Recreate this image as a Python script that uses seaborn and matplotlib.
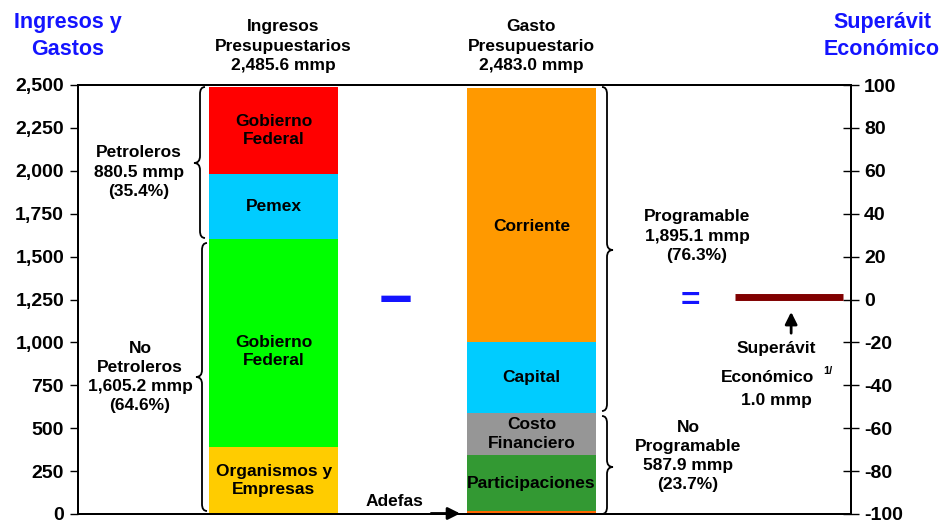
import numpy as np
import matplotlib
matplotlib.use("Agg")
import matplotlib.pyplot as plt
import seaborn as sns
from matplotlib.path import Path
from matplotlib.patches import PathPatch
from matplotlib.ticker import FuncFormatter, MultipleLocator

# data (mmp)
cats = ["Ingresos", "Gasto"]
ing_seg = ["Organismos y\nEmpresas", "Gobierno\nFederal", "Pemex", "Gobierno\nFederal"]
ing_val = [390.0, 1215.2, 378.0, 502.4]
gas_seg = ["", "Participaciones", "Costo\nFinanciero", "Capital", "Corriente"]
gas_val = [15.0, 330.0, 242.9, 415.0, 1480.1]
superavit = 1.0

ing_colors = ["#FFCC00", "#00FF00", "#00CCFF", "#FF0000"]
gas_colors = ["#FF6600", "#339933", "#969696", "#00CCFF", "#FF9900"]

sns.set_theme(style="white")
plt.rcParams["font.family"] = ["Liberation Sans", "DejaVu Sans"]
plt.rcParams["font.weight"] = "bold"
plt.rcParams["axes.unicode_minus"] = False
plt.rcParams["text.color"] = "black"
plt.rcParams["xtick.color"] = "black"
plt.rcParams["ytick.color"] = "black"

fig = plt.figure(figsize=(9.4, 5.23), dpi=100)
ax = fig.add_axes([78 / 940, 9 / 523, 773 / 940, 429 / 523])

# stacked bars: draw cumulative totals from the top down
label_shift = {("Ingresos", 1): -50, ("Gasto", 4): -70}
for cat, vals, cols, labs in [("Ingresos", ing_val, ing_colors, ing_seg),
                              ("Gasto", gas_val, gas_colors, gas_seg)]:
    cum = np.cumsum(vals)
    for top, c in reversed(list(zip(cum, cols))):
        sns.barplot(x=[cat], y=[top], order=cats, color=c, width=0.5,
                    saturation=1, linewidth=0, errorbar=None, ax=ax)
    bottoms = cum - np.array(vals)
    for i, (b, t, lab) in enumerate(zip(bottoms, cum, labs)):
        if lab:
            y = (b + t) / 2 + label_shift.get((cat, i), 0)
            ax.text(cats.index(cat), y, lab, ha="center", va="center", color="black",
                    fontsize=12.5, fontweight="bold", linespacing=1.3, zorder=10)

ax.set_xlim(-0.758, 2.238)
ax.set_ylim(0, 2500)
ax.set_xlabel("")
ax.set_ylabel("")
ax.set_xticks([])
ax.yaxis.set_major_locator(MultipleLocator(250))
ax.yaxis.set_major_formatter(FuncFormatter(lambda v, p: f"{v:,.0f}"))
ax.tick_params(axis="y", direction="out", length=6, width=1, labelsize=14,
               left=True, pad=4, colors="black")
for lab in ax.get_yticklabels():
    lab.set_fontweight("bold")
for sp in ax.spines.values():
    sp.set_color("black")
    sp.set_linewidth(1.4)

ax2 = ax.twinx()
ax2.set_ylim(-100, 100)
ax2.yaxis.set_major_locator(MultipleLocator(20))
ax2.tick_params(axis="y", direction="inout", length=11, width=1, labelsize=14,
                right=True, pad=4, colors="black")
for lab in ax2.get_yticklabels():
    lab.set_fontweight("bold")
for sp in ax2.spines.values():
    sp.set_color("black")
    sp.set_linewidth(1.4)
ax2.hlines(superavit, 1.789, 2.207, color="#800000", lw=5, zorder=5)
ax2.annotate("", xy=(2.006, superavit - 5.5), xytext=(2.006, superavit - 18),
             arrowprops=dict(arrowstyle="-|>", color="black", lw=2, mutation_scale=18))
ax.annotate("", xy=(0.734, 3), xytext=(0.60, 3), annotation_clip=False,
            arrowprops=dict(arrowstyle="-|>", color="black", lw=2, mutation_scale=18))

# overlay in pixel coordinates for labels and braces
ov = fig.add_axes([0, 0, 1, 1], zorder=5)
ov.set_xlim(0, 940)
ov.set_ylim(523, 0)
ov.axis("off")
ov.patch.set_visible(False)


def txt(x, y, s, size=12.5, color="black", ls=1.35):
    ov.text(x, y, s, ha="center", va="center", fontsize=size, color=color,
            fontweight="bold", linespacing=ls)


def brace(x, y0, y1, ym, d, r=7):
    verts = [(x - 5 * d, y0), (x, y0), (x, y0 + r), (x, ym - r),
             (x, ym), (x + 6 * d, ym), (x, ym), (x, ym + r),
             (x, y1 - r), (x, y1), (x - 5 * d, y1)]
    codes = [Path.MOVETO, Path.CURVE3, Path.CURVE3, Path.LINETO,
             Path.CURVE3, Path.CURVE3, Path.CURVE3, Path.CURVE3,
             Path.LINETO, Path.CURVE3, Path.CURVE3]
    ov.add_patch(PathPatch(Path(verts, codes), fill=False, lw=1.3, color="black"))


blue = "#1414FF"
txt(68, 36, "Ingresos y\nGastos", size=15.5, color=blue, ls=1.4)
txt(882, 36, "Superávit\nEconómico", size=15.5, color=blue, ls=1.4)
txt(283, 46, "Ingresos\nPresupuestarios\n2,485.6 mmp", size=12.5)
txt(531, 46, "Gasto\nPresupuestario\n2,483.0 mmp", size=12.5)
txt(139, 172, "Petroleros\n880.5 mmp\n(35.4%)")
txt(140, 377, "No\nPetroleros\n1,605.2 mmp\n(64.6%)")
txt(697, 236, "Programable\n1,895.1 mmp\n(76.3%)")
txt(688, 456, "No\nProgramable\n587.9 mmp\n(23.7%)")
txt(395, 501, "Adefas")
txt(776, 348, "Superávit")
txt(768, 377, "Económico")
ov.text(828, 371, "1/", ha="center", va="center", fontsize=8, fontweight="bold",
        color="black")
txt(776, 401, "1.0 mmp")
txt(396, 303, "\u2212", size=42, color=blue)
txt(690, 301, "=", size=24, color=blue)

brace(200, 87, 238, 163, -1)
brace(202, 243, 511, 377, -1)
brace(607, 87, 411, 250, 1)
brace(607, 416, 514, 467, 1)

fig.savefig("out.png", dpi=100)
